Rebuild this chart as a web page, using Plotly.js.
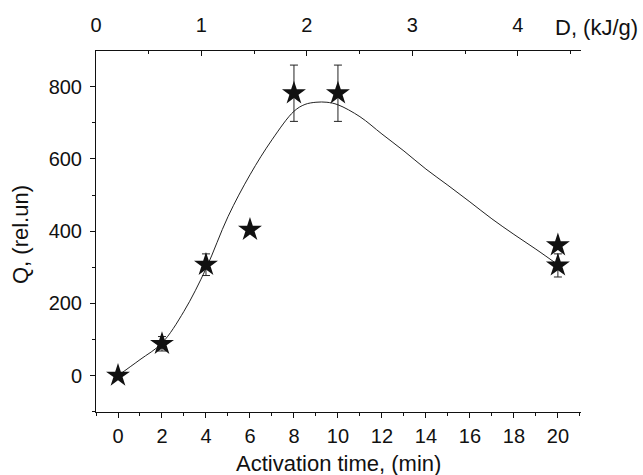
<!DOCTYPE html>
<html>
<head>
<meta charset="utf-8">
<script src="https://cdn.plot.ly/plotly-3.0.1.min.js"></script>
<style>html,body{margin:0;padding:0;background:#fff;}#chart{width:643px;height:475px;}</style>
</head>
<body>
<div id="chart"></div>
<script>
// Measured points (Activation time, min vs Q, rel.un)
var timeMin = [0, 2, 4, 6, 8, 10, 20, 20];
var qValues = [0, 88, 307, 404, 782, 782, 361, 305];
var qErrors = [0, 20, 30, 0, 78, 78, 0, 32];

// Fitted curve
var curveTime = [0, 1, 2, 3, 4, 5, 6, 7, 8, 8.5, 9, 9.5, 10, 11, 12, 13, 14, 15, 16, 17, 18, 19, 20];
var curveQ    = [0, 44, 90, 178, 296, 440, 556, 653, 732, 751, 757, 757, 750, 717, 669, 622, 572, 527, 481, 434, 391, 350, 307];

// Tick labels
var bottomTicks = [0, 2, 4, 6, 8, 10, 12, 14, 16, 18, 20];
var topTicks = [0, 1, 2, 3, 4];
var leftTicks = [0, 200, 400, 600, 800];

var fam = 'Liberation Sans, Arial, sans-serif';
var tickFont = {family: fam, size: 20, color: '#111'};
var titleFont = {family: fam, size: 22, color: '#111'};

var traces = [
  {
    x: curveTime, y: curveQ, type: 'scatter', mode: 'lines',
    line: {color: '#222', width: 1, shape: 'spline', smoothing: 1},
    hoverinfo: 'skip', showlegend: false
  },
  {
    x: timeMin, y: qValues, type: 'scatter', mode: 'markers',
    marker: {symbol: 'star', size: 18, color: '#111', line: {width: 0}},
    error_y: {type: 'data', array: qErrors, visible: true, color: '#222', thickness: 1, width: 4},
    showlegend: false
  },
  {
    x: topTicks, y: [null, null, null, null, null], xaxis: 'x2', yaxis: 'y',
    type: 'scatter', mode: 'markers', showlegend: false, hoverinfo: 'skip'
  }
];

var layout = {
  width: 643, height: 475,
  margin: {l: 96, r: 62, t: 51, b: 63, autoexpand: false},
  paper_bgcolor: '#fff', plot_bgcolor: '#fff',
  font: tickFont,
  showlegend: false,
  xaxis: {
    range: [-1, 21.05], tickvals: bottomTicks, ticktext: bottomTicks.map(String),
    ticks: 'outside', ticklen: 5, tickwidth: 1, tickcolor: '#111',
    minor: {dtick: 1, tick0: -1, ticks: 'outside', ticklen: 3, tickwidth: 1, tickcolor: '#111'},
    showline: true, linecolor: '#111', linewidth: 1, mirror: false,
    showgrid: false, zeroline: false, tickfont: tickFont, ticklabelstandoff: 1
  },
  xaxis2: {
    overlaying: 'x', side: 'top', anchor: 'y',
    range: [0, 4.6], tickvals: topTicks, ticktext: topTicks.map(String),
    ticks: 'inside', ticklen: 5, tickwidth: 1, tickcolor: '#111',
    minor: {dtick: 0.5, tick0: 0, ticks: 'inside', ticklen: 3, tickwidth: 1, tickcolor: '#111'},
    showline: true, linecolor: '#111', linewidth: 1,
    showgrid: false, zeroline: false, tickfont: tickFont, ticklabelstandoff: 10
  },
  yaxis: {
    range: [-101, 899], tickvals: leftTicks, ticktext: leftTicks.map(String),
    ticks: 'outside', ticklen: 5, tickwidth: 1, tickcolor: '#111',
    minor: {dtick: 100, tick0: 0, ticks: 'outside', ticklen: 3, tickwidth: 1, tickcolor: '#111'},
    showline: true, linecolor: '#111', linewidth: 1,
    showgrid: false, zeroline: false, tickfont: tickFont, ticklabelstandoff: 4
  },
  annotations: [
    {text: 'Activation time, (min)', xref: 'paper', yref: 'paper', x: 0.5, y: (412 - 463) / 361,
     xanchor: 'center', yanchor: 'middle', showarrow: false, font: titleFont},
    {text: 'Q, (rel.un)', xref: 'paper', yref: 'paper', x: (20 - 96) / 485, y: (412 - 235) / 361,
     xanchor: 'center', yanchor: 'middle', textangle: -90, showarrow: false, font: titleFont},
    {text: 'D, (kJ/g)', xref: 'paper', yref: 'paper', x: (640 - 96) / 485, y: (412 - 28) / 361,
     xanchor: 'right', yanchor: 'middle', showarrow: false, font: titleFont}
  ]
};

Plotly.newPlot('chart', traces, layout, {displayModeBar: false, staticPlot: true});
</script>
</body>
</html>
